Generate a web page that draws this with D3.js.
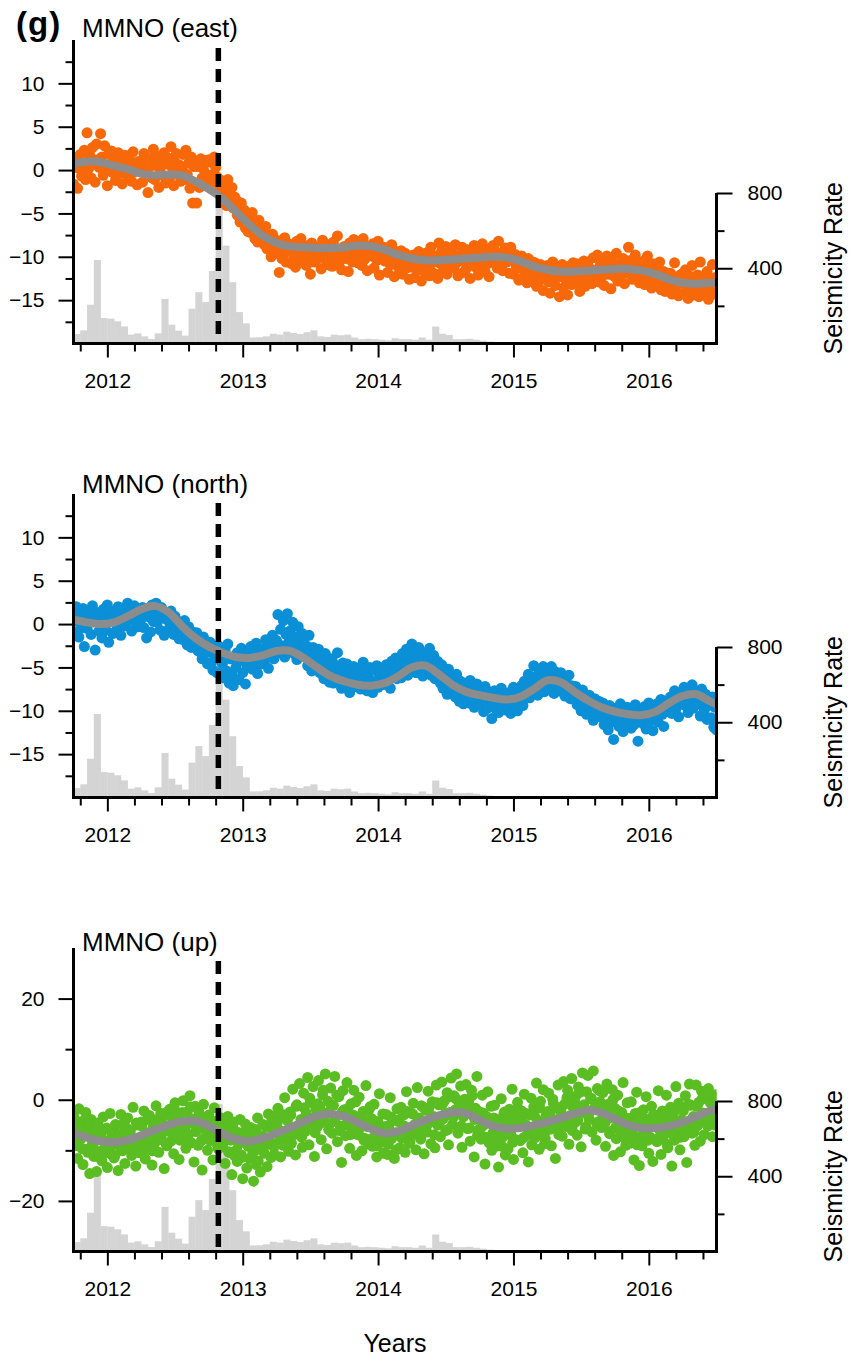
<!DOCTYPE html>
<html>
<head>
<meta charset="utf-8">
<script src="https://cdn.jsdelivr.net/npm/d3@7"></script>
<style>
  body { margin: 0; background: #fff; }
  text { font-family: "Liberation Sans", Arial, Helvetica, sans-serif; fill: #000; }
</style>
</head>
<body>
<svg id="chart" width="850" height="1362"></svg>
<script>
// GPS samples, one every 0.01 yr starting 2011.75
var sampleStart = 2011.75;
var sampleStep = 0.01;

var eastValues = [
  -1.6, 0.9, 1.4, -2.1, 0.2, 1.8, -0.7, 0.6, 2.3, -1.1,
  4.3, 0.1, 1.7, -0.9, 2.6, 0.8, -1.4, 3.0, 1.2, 0.3,
  4.2, 1.5, -0.6, 2.8, 0.4, -1.8, 1.9, 0.7, 2.2, -0.3,
  1.3, -1.2, 0.6, 2.0, -0.4, 1.1, -1.6, 0.2, 1.7, 0.9,
  -0.8, 1.4, 0.3, -1.3, 2.1, -0.2, 0.8, -1.7, 1.0, 0.1,
  0.6, -1.4, 1.9, -0.3, 0.9, -2.6, 0.4, 1.3, -0.9, 2.4,
  -1.1, 0.5, 1.6, -2.0, 0.2, 1.1, -0.6, 2.0, -1.5, 0.7,
  1.4, -0.9, 2.7, 0.3, -1.8, 0.9, 1.9, -0.4, 0.6, -1.3,
  0.2, 1.8, -1.1, 2.3, -0.5, 0.8, -2.1, 1.5, -3.8, 0.4,
  0.8, -3.8, 0.4, -2.0, 1.3, -0.9, 0.1, 1.1, -0.5, -1.6,
  1.2, -0.6, 0.9, -1.4, 1.5, 0.3, -0.8, -2.4, -1.1, -3.0,
  -1.6, -3.2, -2.4, -4.1, -1.1, -2.9, -3.6, -2.0, -4.4, -3.1,
  -3.4, -5.2, -4.1, -6.0, -3.8, -5.5, -4.6, -6.7, -5.0, -7.1,
  -5.6, -7.2, -4.9, -6.5, -7.9, -6.1, -8.3, -5.8, -7.4, -6.8,
  -7.0, -8.6, -6.5, -9.1, -7.7, -8.2, -10.0, -7.4, -8.9, -9.5,
  -8.1, -9.6, -11.8, -8.8, -10.2, -9.0, -7.8, -10.6, -9.4, -8.5,
  -9.3, -10.8, -8.6, -9.9, -11.2, -8.2, -10.1, -9.5, -7.9, -10.5,
  -9.8, -8.7, -11.0, -10.2, -9.1, -12.0, -8.4, -9.7, -10.6, -9.0,
  -10.3, -8.9, -9.6, -11.4, -8.1, -10.0, -9.2, -10.9, -8.6, -9.8,
  -9.4, -11.1, -8.3, -10.4, -9.9, -7.6, -10.8, -9.1, -11.5, -9.6,
  -8.8, -10.2, -9.5, -11.7, -8.4, -9.9, -10.6, -8.0, -10.1, -9.3,
  -10.7, -8.6, -9.4, -11.0, -7.9, -10.3, -9.0, -11.6, -8.8, -9.7,
  -9.9, -8.5, -11.3, -9.2, -10.4, -8.2, -12.1, -9.6, -10.0, -8.9,
  -10.5, -9.0, -11.8, -9.7, -10.9, -8.6, -10.2, -12.3, -9.4, -11.0,
  -10.1, -11.6, -9.3, -12.0, -10.8, -9.6, -11.3, -10.4, -12.6, -9.9,
  -11.2, -9.8, -12.4, -10.6, -11.5, -9.4, -10.9, -12.8, -10.3, -11.7,
  -9.6, -11.4, -10.1, -12.2, -8.9, -10.7, -11.9, -9.9, -10.5, -12.5,
  -8.4, -10.8, -9.3, -11.6, -10.2, -8.8, -12.0, -9.7, -11.1, -10.5,
  -9.5, -11.3, -8.6, -10.7, -12.2, -9.9, -10.4, -8.9, -11.8, -10.1,
  -11.4, -9.2, -10.6, -12.5, -9.8, -10.9, -8.7, -11.2, -10.0, -12.1,
  -9.6, -11.0, -8.5, -10.4, -11.7, -9.1, -10.8, -12.3, -9.9, -10.2,
  -8.7, -10.5, -9.4, -11.3, -8.2, -10.9, -9.8, -11.6, -10.1, -9.0,
  -10.6, -9.2, -11.9, -8.9, -10.3, -12.0, -9.7, -11.1, -10.4, -12.7,
  -11.3, -9.9, -12.4, -10.8, -11.7, -13.0, -10.2, -11.9, -12.6, -10.6,
  -12.1, -10.7, -13.4, -11.5, -12.8, -10.9, -11.8, -13.9, -11.2, -12.4,
  -11.0, -12.9, -14.2, -11.9, -10.6, -12.5, -13.3, -11.4, -12.1, -14.6,
  -12.3, -10.9, -13.6, -11.6, -12.8, -14.4, -11.1, -12.0, -13.2, -10.7,
  -11.8, -13.0, -10.8, -12.5, -14.0, -11.3, -12.7, -10.5, -13.4, -11.9,
  -10.6, -12.2, -11.4, -13.1, -10.1, -12.6, -11.7, -9.8, -12.9, -11.0,
  -12.4, -10.7, -13.3, -11.2, -9.9, -12.0, -11.5, -13.7, -10.4, -12.2,
  -11.1, -9.6, -12.8, -10.9, -12.3, -11.6, -10.2, -13.1, -11.9, -10.5,
  -8.9, -11.8, -10.4, -12.6, -11.2, -9.8, -12.1, -10.9, -13.0, -11.5,
  -12.0, -10.5, -13.2, -11.4, -9.9, -12.7, -11.8, -13.6, -10.8, -12.4,
  -11.3, -13.1, -12.2, -10.6, -13.8, -12.5, -11.7, -14.0, -12.9, -11.9,
  -13.4, -11.9, -14.3, -12.8, -10.7, -13.6, -12.3, -14.5, -13.0, -12.0,
  -12.6, -14.2, -11.5, -13.5, -14.8, -12.2, -13.9, -11.0, -14.4, -12.9,
  -13.7, -12.1, -14.6, -10.6, -13.2, -14.1, -12.5, -13.8, -11.7, -14.9,
  -12.8, -13.9, -10.9, -14.3, -12.4, -13.5
];

var northValues = [
  1.4, -0.9, 2.0, 0.3, -1.5, 1.1, -0.4, 1.8, -2.6, 0.7,
  -0.5, 1.6, 0.2, -1.2, 2.1, 0.8, -3.0, 0.5, 1.3, -0.8,
  0.9, -1.6, 1.7, 0.1, -0.7, 2.2, -2.1, 1.0, 0.4, -1.1,
  1.5, 0.3, -0.6, 2.0, 0.9, -1.3, 1.8, 0.6, -0.2, 1.2,
  2.4, 0.4, 1.6, -0.8, 1.1, 2.1, 0.2, 1.4, -0.3, 0.9,
  0.6, 1.9, -0.4, 1.2, -1.6, 1.5, 0.8, -0.9, 2.2, 0.3,
  1.1, 2.4, 0.2, 1.6, -0.7, 1.9, 0.9, -1.3, 1.4, 0.5,
  0.8, -0.4, 1.5, 0.1, -1.2, 0.9, -0.6, 0.3, -1.7, -0.2,
  -0.5, -1.8, 0.4, -1.1, -2.4, -0.3, -1.5, -2.7, -0.9, -1.9,
  -2.2, -1.0, -3.1, -1.8, -2.6, -4.0, -1.5, -3.4, -2.3, -4.6,
  -3.2, -2.1, -4.4, -5.3, -2.8, -3.9, -5.6, -2.5, -4.1, -3.5,
  -4.6, -6.2, -3.1, -5.4, -2.3, -6.8, -4.0, -5.9, -7.1, -3.7,
  -5.0, -3.3, -6.4, -4.2, -2.8, -5.6, -3.9, -6.9, -4.7, -3.2,
  -4.4, -2.6, -5.2, -3.5, -4.8, -2.2, -5.7, -3.9, -3.0, -4.6,
  -2.9, -4.3, -1.8, -3.7, -5.1, -2.4, -3.2, -1.3, -4.0, -2.7,
  -1.9, 1.1, -3.3, -0.6, -2.5, 0.4, -3.8, -1.2, 1.2, -2.1,
  -0.8, -2.6, 0.2, -3.4, -1.5, -4.1, -0.3, -2.2, -3.0, -1.1,
  -1.9, -3.6, -2.5, -4.8, -1.3, -3.1, -5.4, -2.7, -4.0, -3.3,
  -4.4, -2.9, -5.6, -3.7, -4.9, -6.3, -3.4, -5.2, -4.1, -6.7,
  -5.3, -4.0, -6.8, -4.7, -5.9, -3.3, -6.2, -5.0, -7.4, -4.5,
  -5.7, -6.9, -4.6, -6.3, -7.9, -5.2, -6.6, -4.9, -7.2, -5.8,
  -6.4, -5.1, -7.5, -6.0, -4.4, -6.8, -5.5, -7.7, -6.2, -5.0,
  -6.6, -7.9, -5.3, -6.9, -4.8, -7.3, -6.1, -5.6, -7.0, -6.4,
  -5.9, -4.7, -6.7, -5.2, -7.4, -4.3, -6.1, -5.5, -3.9, -6.3,
  -5.1, -4.0, -6.2, -3.4, -5.5, -4.6, -2.9, -5.9, -4.2, -3.7,
  -2.3, -4.4, -3.1, -5.6, -3.8, -2.7, -4.9, -3.5, -6.0, -4.1,
  -3.3, -5.2, -4.0, -2.8, -5.9, -4.6, -3.6, -6.3, -5.0, -4.3,
  -5.5, -6.8, -4.7, -7.4, -5.9, -6.4, -8.1, -5.2, -7.0, -6.1,
  -7.6, -6.2, -8.4, -5.8, -7.1, -8.9, -6.6, -7.9, -9.2, -6.9,
  -8.3, -7.0, -9.1, -6.5, -8.6, -7.7, -9.6, -8.0, -6.9, -8.8,
  -7.5, -9.3, -8.4, -10.1, -7.2, -8.9, -9.7, -7.8, -8.6, -10.9,
  -9.0, -7.7, -9.8, -8.3, -10.2, -8.8, -7.4, -9.5, -8.1, -9.9,
  -8.5, -9.7, -7.9, -10.3, -8.9, -7.3, -9.2, -8.0, -10.0, -7.6,
  -8.8, -7.1, -9.4, -6.6, -8.1, -7.6, -5.8, -8.5, -7.0, -6.3,
  -4.8, -7.3, -6.0, -8.2, -5.4, -7.0, -6.6, -4.9, -7.8, -5.7,
  -6.9, -5.6, -7.5, -4.9, -6.3, -8.0, -5.5, -7.1, -6.0, -7.7,
  -5.6, -7.4, -6.2, -8.3, -6.8, -7.7, -5.9, -8.6, -7.1, -8.0,
  -8.5, -7.2, -9.3, -7.9, -8.8, -10.0, -7.6, -9.0, -8.3, -10.4,
  -9.5, -8.2, -10.3, -9.0, -11.1, -8.6, -9.9, -10.7, -8.9, -10.0,
  -10.4, -9.1, -11.6, -9.8, -10.9, -12.2, -9.4, -10.6, -11.3, -13.3,
  -9.7, -11.0, -10.3, -11.8, -9.2, -10.7, -12.4, -10.0, -11.4, -9.6,
  -11.1, -9.8, -12.0, -10.5, -11.6, -9.3, -10.9, -13.5, -10.2, -11.3,
  -10.0, -11.5, -9.5, -12.1, -10.8, -9.1, -11.2, -10.4, -12.3, -9.8,
  -10.6, -9.2, -11.3, -9.9, -8.7, -10.4, -11.8, -9.5, -8.9, -10.1,
  -9.6, -8.4, -10.3, -8.9, -7.7, -9.8, -8.2, -10.7, -9.0, -7.9,
  -8.8, -7.3, -9.4, -8.0, -10.2, -7.6, -8.9, -7.0, -9.7, -8.3,
  -7.8, -9.2, -8.4, -10.6, -7.5, -8.8, -9.9, -8.1, -11.0, -9.4,
  -9.0, -10.8, -8.4, -11.9, -9.6, -12.2
];

var upValues = [
  -3.2, -9.1, -5.4, -11.6, -1.8, -7.9, -4.3, -12.8, -6.6, -2.5,
  -9.8, -5.2, -14.6, -3.9, -8.7, -11.2, -6.1, -14.2, -4.6, -10.3,
  -7.0, -12.1, -3.4, -9.5, -5.8, -13.4, -8.1, -2.7, -10.8, -6.3,
  -11.5, -4.9, -8.8, -14.0, -6.7, -2.9, -10.1, -7.4, -12.6, -5.5,
  -3.6, -9.4, -6.2, -11.0, -1.5, -8.3, -13.1, -5.0, -7.7, -10.5,
  -4.4, -8.9, -2.2, -11.7, -6.5, -9.8, -3.1, -7.2, -12.9, -5.3,
  -8.6, -1.2, -6.8, -10.4, -3.7, -7.9, -4.8, -13.6, -2.6, -9.1,
  -5.7, -1.9, -8.2, -3.5, -10.7, -0.6, -6.4, -4.1, -11.8, -2.8,
  -7.3, -0.2, -5.1, -9.6, -2.4, -6.9, 0.8, -8.5, -3.8, -12.3,
  -1.3, -6.1, -9.0, -2.9, -5.4, -13.9, -0.9, -7.6, -4.7, -10.0,
  -3.0, -8.1, -5.9, -11.9, -1.6, -7.0, -4.2, -9.7, -6.6, -3.6,
  -9.3, -4.5, -12.6, -6.9, -3.3, -10.4, -8.0, -14.8, -5.7, -11.1,
  -6.4, -12.2, -8.7, -3.9, -10.9, -15.6, -7.3, -4.8, -13.5, -9.2,
  -11.6, -5.5, -8.9, -16.1, -6.7, -12.8, -3.6, -9.8, -14.3, -7.1,
  -4.9, -10.6, -7.5, -13.2, -2.8, -8.4, -11.4, -5.8, -9.3, -3.2,
  -8.7, -1.7, -6.0, -11.3, -3.4, -9.0, 0.4, -7.2, -4.1, -10.2,
  -2.4, -8.6, 2.1, -5.6, -10.9, -1.0, -6.8, 3.2, -3.9, -9.4,
  1.3, -6.3, -2.7, 4.4, -8.9, -0.5, -4.6, 2.6, -11.2, -1.8,
  -5.4, 3.8, -1.6, -7.9, 1.0, -3.9, 5.1, -9.7, -0.3, -4.8,
  2.3, -6.6, -1.1, 4.6, -3.4, -8.3, 0.6, -5.2, -12.4, 1.8,
  -2.0, -7.1, 3.4, -4.3, -9.6, -0.8, -5.9, 1.9, -3.5, -11.0,
  -6.9, 0.5, -4.0, -10.1, -2.3, -7.6, 2.8, -5.3, -8.8, -1.4,
  -3.7, -9.2, -0.9, -6.3, -11.3, -4.4, 1.2, -8.0, -5.7, -10.6,
  -8.4, -2.9, -10.8, -5.1, 0.4, -7.7, -4.0, -11.6, -6.5, -1.8,
  -4.3, -9.5, -1.5, -7.2, -3.0, -10.4, 1.6, -6.0, -8.6, -2.6,
  -6.8, -0.7, -4.9, -9.9, 2.4, -3.6, -7.4, -1.2, -5.5, -10.7,
  -2.1, -6.4, 1.7, -4.5, -8.7, -0.4, -3.3, -9.5, 2.9, -5.0,
  -1.0, -7.3, 3.5, -3.8, -0.2, -6.1, 1.4, -8.9, -2.5, 4.3,
  -4.9, 0.8, -2.0, 5.1, -6.6, -1.3, 2.7, -9.4, -3.4, 0.1,
  3.0, -5.7, -0.6, -8.2, 1.9, -3.1, -11.3, -1.7, 4.6, -6.0,
  -2.4, -7.8, 0.9, -5.0, -12.7, -3.3, 1.6, -8.5, -4.6, -10.0,
  -6.5, -1.1, -9.2, -3.9, -13.3, -5.8, 0.2, -7.4, -2.7, -10.9,
  -4.2, -9.7, -1.9, -6.8, 2.1, -11.8, -3.5, -7.9, -0.5, -5.3,
  -8.1, -2.2, -10.5, 1.1, -4.9, -7.0, -12.3, -3.0, 0.3, -6.2,
  -1.4, -7.5, 3.3, -4.1, -9.8, -0.3, -5.9, 2.0, -8.7, -3.2,
  -6.0, 1.3, -2.8, -9.1, 0.1, -4.7, -11.6, -1.6, 2.9, -5.4,
  -2.3, -7.2, 3.6, -0.8, -5.3, 1.9, -8.8, -3.7, 4.2, -1.5,
  -4.6, 0.7, -7.0, 2.5, -2.1, -9.3, 5.3, -1.0, -5.8, 1.6,
  4.8, -3.9, 0.2, -6.4, 5.7, -1.6, -8.0, 2.2, -4.3, -0.4,
  -5.5, 1.4, -2.9, -9.2, 3.1, -0.9, -6.7, -3.6, 2.0, -11.0,
  -1.7, -7.7, 0.9, -4.8, -10.3, -2.5, 3.4, -6.3, -9.0, -0.6,
  -3.8, -8.6, -0.4, -6.1, -11.9, -2.7, 1.5, -7.5, -13.0, -4.5,
  -9.1, -2.0, -6.8, 0.6, -4.3, -10.6, -7.4, -1.3, -12.2, -5.2,
  -3.1, -8.3, 1.8, -6.0, -10.8, -2.2, -7.1, -4.6, 0.9, -9.5,
  -5.6, -1.5, -13.1, -3.7, -8.0, 2.6, -6.2, -0.7, -9.9, -4.0,
  -2.0, -7.3, 0.8, -12.4, -4.9, 3.1, -1.1, -6.6, -3.3, -9.0,
  2.9, -5.1, -0.5, -8.2, 1.7, -2.6, -6.9, 0.3, -3.8, 2.2,
  -4.4, 1.1, -7.3, -1.2, -5.0, 0.4
];

// extra vertical samples, one every 0.02 yr starting 2011.755
var upExtraStart = 2011.755;
var upExtraStep = 0.02;
var upExtraValues = [
  -4.8, -8.9, -6.2, -9.7, -5.5, -10.4, -6.8, -9.1, -5.9, -11.3,
  -7.4, -10.6, -5.6, -9.8, -6.9, -11.0, -7.2, -9.3, -4.8, -8.6,
  -6.1, -10.2, -7.9, -4.6, -9.0, -5.2, -8.4, -3.9, -7.6, -10.1,
  -4.0, -7.3, -2.7, -6.4, -8.8, -3.1, -6.6, -1.8, -5.9, -8.0,
  -2.5, -5.8, -7.9, -1.4, -4.7, -6.3, -2.2, -8.1, -3.6, -6.8,
  -3.8, -7.4, -5.0, -9.2, -6.1, -8.6, -5.3, -10.3, -7.1, -4.4,
  -9.9, -6.5, -11.4, -8.0, -5.7, -7.0, -10.5, -5.9, -12.1, -8.4,
  -9.4, -5.4, -8.1, -4.1, -10.8, -4.5, -7.8, -2.9, -6.2, -8.9,
  -3.0, -6.9, -1.3, -5.1, -7.4, -1.6, -5.2, 0.3, -3.7, -6.5,
  -0.8, -4.6, 1.9, -2.6, -5.9, -1.2, -4.3, 0.9, -6.1, -2.4,
  -5.0, -1.8, -6.9, -3.0, -0.4, -6.2, -3.1, -8.0, -4.7, -1.9,
  -7.7, -4.2, -9.1, -5.6, -2.8, -5.3, -8.8, -3.4, -7.0, -9.9,
  -3.9, -7.6, -5.2, -2.3, -8.3, -2.8, -6.0, -4.1, -7.8, -1.5,
  -5.4, -1.7, -3.6, -6.9, -0.6, -4.4, -0.9, -2.8, -5.9, 0.6,
  -3.5, 0.2, -1.9, -5.2, -0.4, -2.1, -5.6, 0.8, -3.9, -7.0,
  -5.7, -2.6, -7.4, -4.1, -1.3, -3.6, -7.9, -5.0, -9.2, -2.4,
  -6.8, -3.3, -8.4, -4.9, -1.8, -4.0, -7.5, -2.7, -6.2, -8.9,
  -3.2, -6.6, -1.6, -5.1, -7.7, -2.3, -5.8, -0.7, -4.0, -6.9,
  -1.5, -4.9, 0.4, -3.2, -6.1, -0.6, -4.1, 1.5, -2.5, -5.4,
  -3.3, 0.3, -1.8, -4.7, 1.8, -1.1, -4.6, -2.7, -6.3, 0.0,
  -5.5, -2.2, -6.8, -3.4, -8.1, -3.7, -7.2, -4.6, -8.9, -2.5,
  -6.9, -3.8, -8.0, -5.1, -2.9, -4.3, -7.6, -3.0, -6.5, -8.8,
  -3.4, -6.8, -2.1, -5.5, -7.4, -2.2, -5.7, -0.9, -4.1, -6.4,
  -1.3, -4.4, 0.2, -2.8, -5.2, -0.6, -3.5, 1.0
];

// smoothed fit, one node every 0.1 yr starting 2011.75
var smoothStart = 2011.75;
var smoothStep = 0.1;
var eastSmooth = [0.7, 1.0, 0.9, 0.5, 0.1, -0.4, -0.6, -0.5, -0.6, -1.3, -2.2, -3.3, -4.8, -6.3, -7.6, -8.4, -8.8,
  -8.9, -9.0, -9.0, -8.9, -8.7, -8.8, -9.2, -9.8, -10.2, -10.4, -10.4, -10.3, -10.2, -10.1, -10.0, -10.1,
  -10.5, -11.1, -11.5, -11.7, -11.7, -11.6, -11.5, -11.4, -11.4, -11.6, -12.0, -12.6, -13.0, -13.1, -13.0, -13.0];
var northSmooth = [0.5, 0.2, 0.0, 0.2, 0.9, 1.7, 2.1, 1.4, -0.2, -1.6, -2.6, -3.3, -3.8, -3.9, -3.6, -3.1, -3.1,
  -3.9, -5.0, -6.0, -6.6, -7.0, -7.1, -6.8, -6.0, -5.0, -4.8, -5.8, -7.0, -7.8, -8.2, -8.5, -8.7,
  -8.4, -7.5, -6.5, -6.7, -7.8, -8.8, -9.6, -10.1, -10.4, -10.5, -10.1, -9.1, -8.3, -8.1, -8.9, -9.6];
var upSmooth = [-6.5, -7.5, -8.2, -8.4, -8.0, -7.0, -6.0, -5.0, -4.3, -4.2, -5.2, -6.7, -7.8, -8.2, -7.6, -6.6, -5.5,
  -4.3, -3.2, -2.8, -3.3, -4.5, -5.8, -6.6, -6.2, -5.1, -4.0, -3.1, -2.5, -2.7, -4.0, -5.2, -5.7,
  -5.6, -5.0, -4.4, -3.6, -2.8, -2.1, -2.6, -3.8, -5.0, -5.6, -5.6, -5.2, -4.4, -3.3, -2.2, -1.5];

// seismicity histogram, bins of 0.05 yr starting 2011.75
var rateStart = 2011.75;
var rateStep = 0.05;
var rateCounts = [50, 70, 206, 444, 135, 132, 118, 91, 47, 54, 38, 24, 54, 237, 100, 68, 42, 185, 273, 220,
  386, 785, 520, 326, 167, 107, 32, 33, 38, 52, 47, 63, 56, 50, 60, 70, 38, 35, 47, 44,
  47, 32, 23, 25, 23, 20, 17, 28, 23, 23, 20, 32, 20, 90, 52, 45, 23, 23, 25, 20,
  15, 10, 6, 5, 4, 3, 2, 2, 1, 1, 1, 1, 0, 0, 0, 0, 0, 0, 0, 0,
  0, 0, 0, 0, 0, 0, 0, 0, 0, 0, 0, 0, 0, 0, 0];

var quakeYear = 2012.82;
var yearTicks = [2012, 2013, 2014, 2015, 2016];
var yearMinor = [2011.8, 2012.2, 2012.4, 2012.6, 2012.8, 2013.2, 2013.4, 2013.6, 2013.8,
  2014.2, 2014.4, 2014.6, 2014.8, 2015.2, 2015.4, 2015.6, 2015.8, 2016.2, 2016.4];
var rateTicks = [400, 800];
var rateMinor = [200, 600];

var panels = [
  { title: "MMNO (east)", smooth: eastSmooth, color: "#f7680a",
    series: [[sampleStart, sampleStep, eastValues]],
    top: 40, domain: [-20, 15], major: [-15, -10, -5, 0, 5, 10],
    minor: [-17.5, -12.5, -7.5, -2.5, 2.5, 7.5, 12.5], titleDy: -3, dashDy: 8 },
  { title: "MMNO (north)", smooth: northSmooth, color: "#0b8fd6",
    series: [[sampleStart, sampleStep, northValues]],
    top: 494, domain: [-20, 15], major: [-15, -10, -5, 0, 5, 10],
    minor: [-17.5, -12.5, -7.5, -2.5, 2.5, 7.5, 12.5], titleDy: -1, dashDy: 9 },
  { title: "MMNO (up)", smooth: upSmooth, color: "#5abd22",
    series: [[sampleStart, sampleStep, upValues], [upExtraStart, upExtraStep, upExtraValues]],
    top: 948, domain: [-30, 30], major: [-20, 0, 20],
    minor: [-10, 10], titleDy: 3, dashDy: 13 }
];

var left = 73.5, right = 716.5, plotH = 303.5;
var svg = d3.select("#chart");
var x = d3.scaleLinear().domain([2011.75, 2016.5]).range([left, right]);

// draws one set of ticks in its own group so major and minor don't overwrite each other
function tickGroup(parent, axis, tx, ty) {
  var grp = parent.append("g").attr("transform", "translate(" + tx + "," + ty + ")").call(axis);
  grp.select(".domain").remove();
  grp.selectAll(".tick line").attr("stroke", "#000").attr("stroke-width", 2);
  grp.selectAll(".tick text").style("font-size", "21px").attr("fill", "#000")
    .style("font-family", "'Liberation Sans', Arial, Helvetica, sans-serif");
  return grp;
}

panels.forEach(function (p, pi) {
  var top = p.top, bottom = top + plotH;
  var y = d3.scaleLinear().domain(p.domain).range([bottom, top]);
  var r = d3.scaleLinear().domain([0, 800]).range([bottom, bottom - 150.5]);
  var g = svg.append("g");

  var clipId = "clip" + pi;
  svg.append("clipPath").attr("id", clipId)
    .append("rect").attr("x", left).attr("y", top).attr("width", right - left).attr("height", plotH);

  // seismicity histogram
  g.append("g").selectAll("rect")
    .data(rateCounts.map(function (c, i) { return [i, c]; }).filter(function (d) { return d[1] > 0; }))
    .enter().append("rect")
    .attr("x", function (d) { return x(rateStart + rateStep * d[0]); })
    .attr("width", x(rateStart + rateStep) - x(rateStart) + 0.3)
    .attr("y", function (d) { return r(d[1]); })
    .attr("height", function (d) { return bottom - r(d[1]); })
    .attr("fill", "#d4d4d4");

  // GPS points
  var pts = [];
  p.series.forEach(function (s) {
    s[2].forEach(function (v, i) { pts.push([s[0] + s[1] * i, v]); });
  });
  pts.sort(function (a, b) { return a[0] - b[0]; });
  g.append("g").attr("clip-path", "url(#" + clipId + ")")
    .selectAll("circle").data(pts).enter().append("circle")
    .attr("cx", function (d) { return x(d[0]); })
    .attr("cy", function (d) { return y(d[1]); })
    .attr("r", 5.5)
    .attr("fill", p.color);

  // smooth fit
  var line = d3.line()
    .x(function (d, i) { return x(smoothStart + smoothStep * i); })
    .y(function (d) { return y(d); })
    .curve(d3.curveCatmullRom);
  g.append("path").attr("clip-path", "url(#" + clipId + ")")
    .attr("d", line(p.smooth))
    .attr("fill", "none").attr("stroke", "#8c8c8c").attr("stroke-width", 8);

  // earthquake marker
  g.append("line")
    .attr("x1", x(quakeYear)).attr("x2", x(quakeYear))
    .attr("y1", top + p.dashDy).attr("y2", bottom)
    .attr("stroke", "#000").attr("stroke-width", 5.5).attr("stroke-dasharray", "13,8");

  // left axis
  tickGroup(g, d3.axisLeft(y).tickValues(p.major).tickSize(15).tickPadding(14).tickFormat(d3.format("d")), left, 0);
  tickGroup(g, d3.axisLeft(y).tickValues(p.minor).tickSize(8).tickFormat(""), left, 0);

  // bottom axis
  tickGroup(g, d3.axisBottom(x).tickValues(yearTicks).tickSize(14).tickPadding(16).tickFormat(d3.format("d")), 0, bottom);
  tickGroup(g, d3.axisBottom(x).tickValues(yearMinor).tickSize(8).tickFormat(""), 0, bottom);

  // right axis
  tickGroup(g, d3.axisRight(r).tickValues(rateTicks).tickSize(16).tickPadding(15).tickFormat(d3.format("d")), right, 0);
  tickGroup(g, d3.axisRight(r).tickValues(rateMinor).tickSize(8).tickFormat(""), right, 0);

  // axis frame
  g.append("path")
    .attr("d", "M" + left + "," + top + "V" + bottom + "H" + right + "V" + r(800))
    .attr("fill", "none").attr("stroke", "#000").attr("stroke-width", 3);

  g.append("text").attr("x", 82).attr("y", top + p.titleDy)
    .style("font-size", "26px").text(p.title);

  var mid = (bottom + r(800)) / 2;
  g.append("text")
    .attr("transform", "translate(842," + mid + ") rotate(-90)")
    .attr("text-anchor", "middle")
    .style("font-size", "25px")
    .text("Seismicity Rate");
});

svg.append("text").attr("x", 16).attr("y", 35)
  .style("font-size", "33px").style("font-weight", "bold").style("letter-spacing", "1px")
  .text("(g)");

svg.append("text").attr("x", (left + right) / 2).attr("y", 1352)
  .attr("text-anchor", "middle").style("font-size", "25px").text("Years");
</script>
</body>
</html>
